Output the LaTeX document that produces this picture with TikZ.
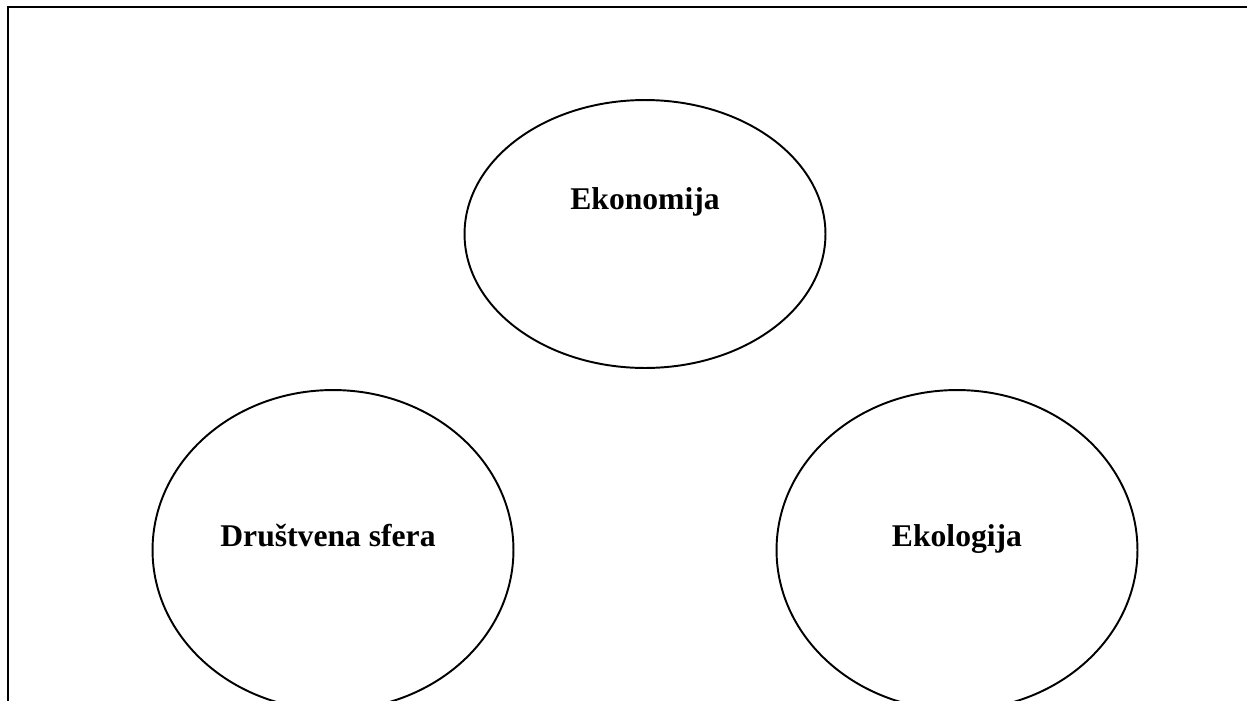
\documentclass[tikz,border=0pt]{standalone}
\usepackage{fontspec}
\setmainfont{Liberation Serif}
\usepackage{tikz}
\usetikzlibrary{shapes.geometric}

\begin{document}
\begin{tikzpicture}[x=0.02cm, y=-0.02cm, line width=1.1pt,
  sfera/.style={draw, ellipse, inner sep=0pt, minimum width=7.22cm},
  naziv/.style={anchor=base, font=\fontsize{18}{20}\selectfont\bfseries}]
  \useasboundingbox (0,0) rectangle (1247,700);
  \clip (0,0) rectangle (1247,700);
  \draw (8,7) rectangle (1270,730);
  % the three spheres
  \node[sfera, minimum height=5.36cm] (ekon) at (645,234) {};
  \node[sfera, minimum height=6.4cm] (drus) at (333,550) {};
  \node[sfera, minimum height=6.4cm] (ekol) at (957,550) {};
  \node[naziv] (ekontxt) at (645,209) {Ekonomija};
  \node[naziv] (drustxt) at (328,546) {Društvena sfera};
  \node[naziv] (ekoltxt) at (957,546) {Ekologija};
\end{tikzpicture}
\end{document}
